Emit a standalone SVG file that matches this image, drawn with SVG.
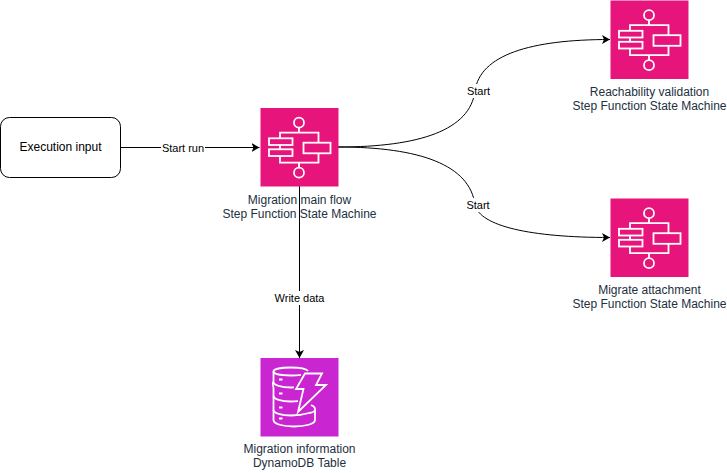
<svg xmlns="http://www.w3.org/2000/svg" xmlns:xlink="http://www.w3.org/1999/xlink" width="727" height="473" viewBox="0 0 727 473">
<style>
text{font-family:"Liberation Sans",Arial,sans-serif;font-size:12px;text-anchor:middle}
.cap{fill:#232F3E}
.lab{fill:#000}
.el{font-size:11px}
.conn{fill:none;stroke:#000;stroke-width:1}
.g{fill:none;stroke:#fff;stroke-width:1.8}
.bg{fill:#fff;stroke:none}
</style>
<defs>
<marker id="ah" markerUnits="userSpaceOnUse" markerWidth="10" markerHeight="10" refX="8" refY="4.500" orient="auto"><path d="M0 0L8 4.500L0 9L2 4.500Z" fill="#000"/></marker>
<g id="sf">
<rect width="78" height="78.500" fill="#E7157B"/>
<g class="g">
<circle cx="38.500" cy="14.700" r="5"/><circle cx="38.500" cy="64.700" r="5"/>
<path d="M38.500 19.700V24.700H19.500V30.300M19.500 37V41.300M19.500 48V54.700H38.500V59.700M38.500 24.700H58V34.700M58 45.300V54.700H38.500"/>
<rect x="8.500" y="30.300" width="23.500" height="6.700"/><rect x="8.500" y="41.300" width="23.500" height="6.700"/><rect x="43" y="34.700" width="27" height="10.600"/>
</g>
</g>
</defs>
<g id="connectors">
<path class="conn" d="M120.500 147.500H259.500" marker-end="url(#ah)"/>
<path class="conn" d="M338 147C420 147 470 130 475 91C480 55 530 39.500 610 39.500" marker-end="url(#ah)"/>
<path class="conn" d="M338 147C420 147 470 165 475 205C480 226 530 237.500 610 237.500" marker-end="url(#ah)"/>
<path class="conn" d="M299.500 186V358" marker-end="url(#ah)"/>
</g>
<g id="edge-labels">
<rect class="bg" x="161" y="141" width="44" height="14"/><text class="lab el" x="183" y="152">Start run</text>
<rect class="bg" x="466" y="84" width="26" height="14"/><text class="lab el" x="478.500" y="95">Start</text>
<rect class="bg" x="466" y="198" width="26" height="14"/><text class="lab el" x="478" y="209">Start</text>
<rect class="bg" x="273" y="291" width="54" height="14"/><text class="lab el" x="299.500" y="302">Write data</text>
</g>
<g id="execution-input"><rect x="0.500" y="117.500" width="120" height="60" rx="9" fill="#fff" stroke="#000"/><text class="lab" x="60.500" y="151">Execution input</text></g>
<g id="main-flow"><use xlink:href="#sf" x="260.500" y="108"/><text class="cap" x="299.500" y="204">Migration main flow</text><text class="cap" x="299.500" y="218">Step Function State Machine</text></g>
<g id="reachability"><use xlink:href="#sf" x="610.500" y="0.500"/><text class="cap" x="649.500" y="96">Reachability validation</text><text class="cap" x="649.500" y="110">Step Function State Machine</text></g>
<g id="migrate-attachment"><use xlink:href="#sf" x="610.500" y="198.500"/><text class="cap" x="649.500" y="294">Migrate attachment</text><text class="cap" x="649.500" y="308">Step Function State Machine</text></g>
<g id="dynamodb">
<rect x="260.500" y="358" width="78" height="78.500" fill="#C925D1"/>
<g class="g">
<path d="M308 371C306 368.500 299 367.500 291 367.500C281 367.500 273.500 369 273.500 371.500C273.500 374 281 375.500 291 375.500C295 375.500 298 375.300 301 374.800"/>
<path d="M273.500 371.500V382C273.500 385 281 387.500 291 387.500L294 387.400"/>
<path d="M273.500 382C271.500 384 273.500 386 273.500 388V396C273.500 399 281 401.500 291 401.500C293 401.500 295 401.400 298 401.200"/>
<path d="M273.500 396V410C273.500 413 281 415.500 291 415.500C298 415.500 304 414.500 309 413"/>
<path d="M273.500 410V420C273.500 424 283 426.500 294 426.500C305 426.500 315 424 315 420V409C315 407.500 313.500 406 311 405"/>
<path d="M315 410C315 412 312 412.500 309 413"/>
<path d="M279 379.500H282.500M279 393.500H282.500M279 407.500H282.500M279 418.500H282.500"/>
<path d="M305 373.500H322L316 385H326L298 412L303.500 389H296Z"/>
</g>
<text class="cap" x="299.500" y="453">Migration information</text><text class="cap" x="299.500" y="467">DynamoDB Table</text>
</g>
</svg>
